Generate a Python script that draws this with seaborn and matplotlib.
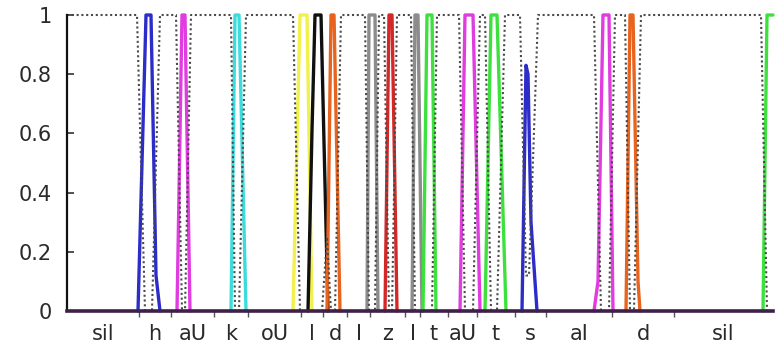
import matplotlib
matplotlib.use("Agg")
import matplotlib.pyplot as plt
import seaborn as sns
import pandas as pd

sns.set_style("white")
plt.rcParams["font.family"] = ["DejaVu Sans"]

# ---- data (frames) ----
phonemes = ["sil", "h", "aU", "k", "oU", "l", "d", "I", "z", "I", "t",
            "aU", "t", "s", "aI", "d", "sil"]
boundaries = [0, 72, 104, 147, 181, 234, 256, 280, 303, 338, 353, 381,
              410, 448, 479, 545, 607, 706]

h_x = [71, 79, 84, 89, 93];            h_y = [0, 1, 1, 0.12, 0]
aU1_x = [110, 115, 118, 123];          aU1_y = [0, 1, 1, 0]
k_x = [164, 168, 172, 179];            k_y = [0, 1, 1, 0]
oU_x = [226, 233, 240, 245];           oU_y = [0, 1, 1, 0]
l_x = [241, 245, 248, 254, 261];       l_y = [0, 0.61, 1, 1, 0]
d1_x = [260, 264, 267, 273];           d1_y = [0, 1, 1, 0]
I1_x = [300, 302, 308, 311];           I1_y = [0, 1, 1, 0]
z_x = [318, 322, 325, 330];            z_y = [0, 1, 1, 0]
I2_x = [345, 348, 351, 355];           I2_y = [0, 1, 1, 0]
t1_x = [356, 360, 365, 369];           t1_y = [0, 1, 1, 0]
aU2_x = [393, 398, 406, 413];          aU2_y = [0, 1, 1, 0]
t2_x = [418, 424, 430, 439];           t2_y = [0, 1, 1, 0]
s_x = [455, 459, 461, 464, 470];       s_y = [0, 0.83, 0.8, 0.3, 0]
aI_x = [527, 531, 536, 542, 546];      aI_y = [0, 0.1, 1, 1, 0]
d2_x = [559, 563, 566, 571, 573];      d2_y = [0, 1, 1, 0.1, 0]
sil_x = [696, 700, 706];               sil_y = [0, 1, 1]

blank_x = [0, 70, 78, 85, 93, 109, 115, 118, 124, 164, 168, 172, 179,
           226, 233, 255, 260, 264, 268, 274, 298, 302, 308, 312, 317,
           322, 325, 330, 344, 348, 365, 370, 392, 398, 406, 413, 418,
           424, 430, 438, 453, 459, 462, 471, 527, 534, 542, 548, 558,
           563, 567, 574, 694, 700, 706]
blank_y = [1, 1, 0, 0, 1, 1, 0, 0, 1, 1, 0, 0, 1,
           1, 0, 0, 0.25, 0, 0, 1, 1, 0, 0, 1, 1,
           0, 0, 1, 1, 0, 0, 1, 1, 0, 0, 1, 1,
           0, 0, 1, 1, 0.12, 0.12, 1, 1, 0, 0, 1, 1,
           0, 0, 1, 1, 0, 0]

series = [
    (h_x, h_y, "#2c2cc8"),
    (aU1_x, aU1_y, "#e03ce0"),
    (k_x, k_y, "#3cdcdc"),
    (oU_x, oU_y, "#f2f04a"),
    (l_x, l_y, "#101010"),
    (d1_x, d1_y, "#e8641e"),
    (I1_x, I1_y, "#8c8c8c"),
    (z_x, z_y, "#d42828"),
    (I2_x, I2_y, "#8c8c8c"),
    (t1_x, t1_y, "#3ee03e"),
    (aU2_x, aU2_y, "#e03ce0"),
    (t2_x, t2_y, "#3ee03e"),
    (s_x, s_y, "#2c2cc8"),
    (aI_x, aI_y, "#e03ce0"),
    (d2_x, d2_y, "#e8641e"),
    (sil_x, sil_y, "#3ee03e"),
]

fig = plt.figure(figsize=(7.78, 3.51), dpi=100)
ax = fig.add_axes([67 / 778, 1 - 311 / 351, (773 - 67) / 778, (311 - 15) / 351])

for xs, ys, c in series:
    sns.lineplot(x=xs, y=ys, color=c, linewidth=2.4, ax=ax, clip_on=False)

sns.lineplot(x=blank_x, y=blank_y, color="#4a4a4a", linewidth=1.5,
             linestyle=(0, (1, 1.3)), ax=ax, clip_on=False)

ax.set_xlim(0, 706)
ax.set_ylim(0, 1)
ax.set_xlabel("")
ax.set_ylabel("")

for side in ["top", "right"]:
    ax.spines[side].set_visible(False)
ax.spines["left"].set_color("#111111")
ax.spines["left"].set_linewidth(1.6)
ax.spines["bottom"].set_color("#3e2048")
ax.spines["bottom"].set_linewidth(2.6)

ax.set_yticks([0, 0.2, 0.4, 0.6, 0.8, 1.0])
ax.set_yticklabels(["0", "0.2", "0.4", "0.6", "0.8", "1"])
ax.tick_params(axis="y", direction="in", length=5, width=1.2, color="#333333",
               labelsize=15, pad=11, labelcolor="#2a2a2a", left=True)

centers = [(boundaries[i] + boundaries[i + 1]) / 2 for i in range(len(phonemes))]
ax.set_xticks(boundaries[1:-1])
ax.set_xticklabels([])
ax.set_xticks(centers, minor=True)
ax.set_xticklabels(phonemes, minor=True)
ax.tick_params(axis="x", which="major", direction="out", length=4, width=1,
               color="#555555", bottom=True)
ax.tick_params(axis="x", which="minor", length=0, labelsize=15, pad=9,
               labelcolor="#2a2a2a", bottom=True)

fig.savefig("out.png", dpi=100)
